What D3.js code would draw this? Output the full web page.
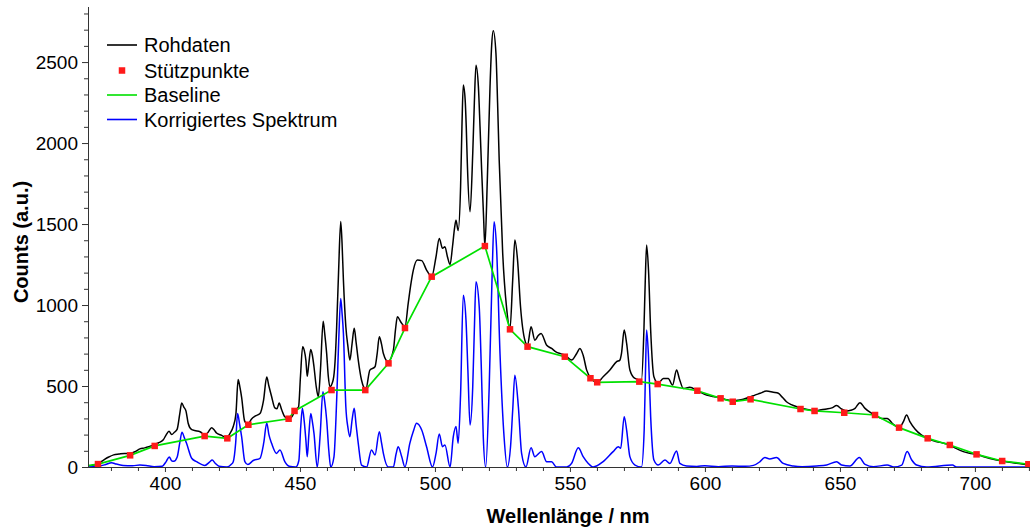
<!DOCTYPE html>
<html>
<head>
<meta charset="utf-8">
<script src="https://cdn.jsdelivr.net/npm/d3@7"></script>
<style>
  html, body { margin: 0; padding: 0; background: #fff; }
  svg { display: block; font-family: "Liberation Sans", Arial, sans-serif; }
</style>
</head>
<body>
<svg id="chart" width="1030" height="528"></svg>
<script>
// ---------- DATA ----------
const rawWl = [371.5,373,375,377,379,381,383,385,387,389,390.7,392.5,394,395.7,397.5,399.4,400.5,401.5,402.5,403.5,404.5,405.5,406.2,407,407.8,408.6,409.8,411,413,414.8,416,417.3,418.2,419.1,421,422.8,424,425.3,426.3,427.1,427.8,428.4,429.5,430.7,432,433.5,435.2,436.5,437.7,438.5,439.5,440.7,441.5,442.3,443.2,444.4,445.8,447,448.2,449.5,450.2,451,451.6,452.2,452.7,453.3,454,454.6,455.2,456,456.8,457.6,458.6,459.2,459.9,460.5,461.1,462.3,463,463.6,464.3,465.1,465.6,466.1,467,467.8,468.5,469.3,470.1,470.8,471.6,472.8,474.4,475.9,477.8,478.6,479.4,480.2,480.9,482.7,484.6,485.4,486.1,487.3,488.9,490.1,491,492,493.5,495.1,496.9,498.8,500.4,501.6,502.8,503.7,504.6,505.6,506.5,507.3,507.8,508.6,509.5,510,510.5,511.2,511.6,512,513,514,514.6,515.2,516.1,516.7,517.3,518,518.5,519.4,520.4,521,521.6,522.6,523.2,523.8,525.1,526.5,527.8,528.8,529.6,530.6,531.7,533.3,534.3,535.6,537,538.2,539.3,541.4,543.2,544.8,546.5,548.2,550.6,552.5,553.7,554.9,556.2,557.8,560.1,562.3,564.8,567.3,568.5,569.1,570.1,571,572.2,574.1,576.5,577.4,577.9,578.4,579.1,579.9,581.1,582.7,584.6,586.4,588,589.5,590.5,592,594.4,597.2,600.6,603,605.6,608,610.2,612,614.2,616.9,618.5,620.5,622.8,625.3,627.2,628.7,630.2,632,634,636.5,638.9,640.5,642.6,645.1,647,648.8,650.6,652.5,654,655.6,657.4,659.3,661.4,663,665.4,667.5,669.8,671.9,673.5,674.7,675.9,677.8,680,682.5,685,687.1,690.7,693,695.7,698,700.6,703,705.6,710.1,715.4,720.4];
const rawCounts = [8,10,20,40,60,75,80,84,84,95,112,118,125,135,148,168,200,220,200,215,232,330,395,370,345,270,232,225,218,197,215,243,230,210,195,180,205,250,330,540,490,430,285,262,295,315,330,410,555,500,435,365,360,395,355,310,298,310,350,372,560,743,720,660,560,640,726,690,619,500,434,600,900,820,700,560,496,537,650,866,1200,1515,1380,1154,866,740,660,760,856,770,660,537,479,598,619,700,804,760,701,650,722,850,928,897,866,1010,1120,1216,1278,1274,1216,1175,1298,1411,1350,1360,1300,1250,1360,1480,1524,1460,1730,2100,2358,2265,2100,1874,1576,1936,2250,2481,2347,2100,1833,1550,1364,1771,2347,2600,2693,2553,2250,1895,1318,989,855,1154,1401,1277,989,783,752,866,783,810,824,752,732,711,700,691,660,701,732,690,598,547,523,557,599,650,660,702,846,763,599,547,537,846,1150,1370,1216,846,557,516,547,547,506,599,547,485,492,471,444,435,428,415,409,412,418,434,444,455,469,461,455,430,403,385,372,360,352,346,352,358,365,379,358,346,350,362,397,362,335,321,300,300,263,243,280,321,280,235,200,177,160,152,136,115,95,85,78,65,53,37,23,12];

const stuetzWl = [375.2,387.1,396.2,414.7,423.1,430.9,445.8,448.0,461.7,474.2,482.8,488.9,498.8,518.5,527.8,534.3,548.1,557.6,560.1,575.7,582.5,597.2,605.8,610.3,616.9,635.4,640.6,651.6,663.0,671.9,682.5,690.7,700.6,710.1,719.8];
const stuetzCounts = [18,72,130,191,177,261,298,346,475,475,640,858,1175,1364,850,743,681,548,523,527,512,471,424,403,418,358,346,335,321,243,177,136,78,37,17];

// baseline begins at the left edge of the axis before the first support point
const baselineStartWl = [371.5];
const baselineStartCounts = [8];

const corrWl = [371.5,375,378,380.2,382,384.5,388,390.7,393,396,399,400.5,401.6,402.5,403.3,404.5,405.5,406.3,407.2,408,409.9,411.7,414.8,416.5,417.5,418.5,420,423,424.5,425.3,426.2,426.9,427.6,428.4,429.6,430.7,432.7,435.2,436.6,437.7,438.5,439.5,441.3,442.6,444.4,446,448.5,449.6,450.3,450.9,451.6,452.2,452.7,453.3,454,454.6,455.2,456.4,457.5,458.5,459.2,459.9,460.7,461.4,462.6,463.6,464.4,465.1,465.6,466.1,467,467.8,468.5,469.3,470.1,470.8,471.6,472.8,474.7,476.5,477.8,479.4,480.2,480.9,482.7,484.6,485.6,486.4,487.7,488.9,490.7,492,493.2,495.1,496.9,499.1,500.4,501.6,502.8,503.7,505.6,506.8,507.8,508.6,509.5,510.5,511.5,512.2,513,514,514.6,515.2,516.4,517.2,517.9,518.8,520.1,521.2,521.9,522.8,524.1,525.6,526.8,528,528.8,529.6,530.9,532.1,533.7,535.6,537,539.5,541.4,543.2,545,548.8,550.6,553.1,554.9,556.8,558.6,562.3,566,567.9,568.8,570.1,571,572.2,574.1,576.5,577.5,578,578.4,579.1,579.9,581.1,582.7,585.2,587,589.5,590.7,593.2,597,600,605,610,615,618,620.4,622.2,624,626.5,629,632.7,636,641.4,645.1,648.8,650.6,653.7,657.2,659.3,662.4,667.5,670,672.9,674.9,676.6,678.4,682.1,691.7,693.2,700,710,720.4];
const corrCounts = [0,3,15,27,18,10,8,12,10,2,5,35,62,38,35,60,150,215,180,146,54,33,10,30,43,25,5,0,15,33,150,330,270,187,33,15,40,54,150,272,200,146,84,105,33,5,0,40,250,362,280,166,63,200,331,280,208,0,200,465,400,290,100,0,63,413,800,1041,950,825,372,240,187,290,362,260,146,12,0,105,74,218,150,84,0,0,80,125,63,0,146,220,270,228,125,0,84,203,125,136,0,187,250,146,450,1061,907,600,259,496,850,1144,989,600,187,0,496,1200,1514,1360,701,187,0,125,350,567,372,84,0,119,64,95,33,33,0,0,22,119,64,22,0,33,95,125,115,311,228,64,12,0,228,600,846,681,311,43,12,43,22,99,22,6,3,8,2,6,4,10,33,58,50,58,22,6,2,6,12,33,12,6,58,16,2,12,0,12,95,43,12,0,12,0,0,0,0];

const xMajorTicks = [400,450,500,550,600,650,700];
const xMinorTicks = [380,390,410,420,430,440,460,470,480,490,510,520,530,540,560,570,580,590,610,620,630,640,660,670,680,690,710,720];
const yMajorTicks = [0,500,1000,1500,2000,2500];
const yMinorTicks = [100,200,300,400,600,700,800,900,1100,1200,1300,1400,1600,1700,1800,1900,2100,2200,2300,2400,2600,2700,2800];

const legendLabels = ["Rohdaten", "Stützpunkte", "Baseline", "Korrigiertes Spektrum"];
const xTitle = "Wellenlänge / nm";
const yTitle = "Counts (a.u.)";

// ---------- DRAWING ----------
const svg = d3.select("#chart");
const mLeft = 88, mRight = 1030, mTop = 7, mBottom = 467;

const x = d3.scaleLinear().domain([371.5, 720.4]).range([mLeft, mRight]);
const y = d3.scaleLinear().domain([0, 2840]).range([mBottom, mTop]);

const zip = (a, b) => a.map((d, i) => [d, b[i]]);
const rawData = zip(rawWl, rawCounts);
const corrData = zip(corrWl, corrCounts);
const stuetzData = zip(stuetzWl, stuetzCounts);
const baselineData = zip(baselineStartWl, baselineStartCounts).concat(stuetzData);

const smoothLine = d3.line().x(d => x(d[0])).y(d => y(d[1])).curve(d3.curveMonotoneX);
const straightLine = d3.line().x(d => x(d[0])).y(d => y(d[1]));

svg.append("defs").append("clipPath").attr("id", "clip")
  .append("rect").attr("x", mLeft).attr("y", 0).attr("width", mRight - mLeft).attr("height", mBottom + 1);

const plot = svg.append("g").attr("clip-path", "url(#clip)");

plot.append("path").datum(rawData).attr("d", smoothLine)
  .attr("fill", "none").attr("stroke", "#000").attr("stroke-width", 1.5).attr("stroke-linejoin", "round");

plot.append("path").datum(corrData).attr("d", smoothLine)
  .attr("fill", "none").attr("stroke", "#0000ff").attr("stroke-width", 1.5).attr("stroke-linejoin", "round");

plot.append("path").datum(baselineData).attr("d", straightLine)
  .attr("fill", "none").attr("stroke", "#00e000").attr("stroke-width", 1.7);

plot.selectAll("rect.sp").data(stuetzData).enter().append("rect")
  .attr("class", "sp")
  .attr("x", d => x(d[0]) - 3.25).attr("y", d => y(d[1]) - 3.25)
  .attr("width", 6.5).attr("height", 6.5).attr("fill", "#ff1a1a");

// axes
const fontTick = "19px";
const yAxisMajor = svg.append("g").attr("transform", `translate(${mLeft},0)`)
  .call(d3.axisLeft(y).tickValues(yMajorTicks).tickSize(6).tickPadding(4).tickFormat(d3.format("d")));
yAxisMajor.select(".domain").remove();
yAxisMajor.selectAll("text").attr("font-size", fontTick).attr("fill", "#000").attr("font-family", "Liberation Sans, Arial, sans-serif");
const yAxisMinor = svg.append("g").attr("transform", `translate(${mLeft},0)`)
  .call(d3.axisLeft(y).tickValues(yMinorTicks).tickSize(4).tickFormat(""));
yAxisMinor.select(".domain").remove();

const xAxisMajor = svg.append("g").attr("transform", `translate(0,${mBottom})`)
  .call(d3.axisBottom(x).tickValues(xMajorTicks).tickSize(5).tickPadding(5).tickFormat(d3.format("d")));
xAxisMajor.select(".domain").remove();
xAxisMajor.selectAll("text").attr("font-size", fontTick).attr("fill", "#000").attr("font-family", "Liberation Sans, Arial, sans-serif");
const xAxisMinor = svg.append("g").attr("transform", `translate(0,${mBottom})`)
  .call(d3.axisBottom(x).tickValues(xMinorTicks).tickSize(4).tickFormat(""));
xAxisMinor.select(".domain").remove();

svg.selectAll(".tick line").attr("stroke", "#333");

// axis lines
svg.append("line").attr("x1", mLeft + 0.5).attr("x2", mLeft + 0.5).attr("y1", mTop).attr("y2", mBottom + 0.5)
  .attr("stroke", "#333").attr("stroke-width", 1);
svg.append("line").attr("x1", mLeft).attr("x2", mRight).attr("y1", mBottom + 0.5).attr("y2", mBottom + 0.5)
  .attr("stroke", "#333").attr("stroke-width", 1);

// titles
svg.append("text").attr("x", 568).attr("y", 523).attr("text-anchor", "middle")
  .attr("font-size", "20px").attr("font-weight", "bold").text(xTitle);
svg.append("text").attr("transform", "translate(28,242) rotate(-90)").attr("text-anchor", "middle")
  .attr("font-size", "20px").attr("font-weight", "bold").text(yTitle);

// legend
const lg = svg.append("g");
const legY = [45, 70.5, 95, 119.5];
const legColors = ["#000", "#ff1a1a", "#00e000", "#0000ff"];
legendLabels.forEach((lab, i) => {
  if (i === 1) {
    lg.append("rect").attr("x", 118.75).attr("y", legY[i] - 3.25).attr("width", 6.5).attr("height", 6.5).attr("fill", legColors[i]);
  } else {
    lg.append("line").attr("x1", 107).attr("x2", 137).attr("y1", legY[i]).attr("y2", legY[i])
      .attr("stroke", legColors[i]).attr("stroke-width", 1.6);
  }
  lg.append("text").attr("x", 144).attr("y", legY[i] + 7).attr("font-size", "20px").attr("fill", "#000").text(lab);
});
</script>
</body>
</html>
